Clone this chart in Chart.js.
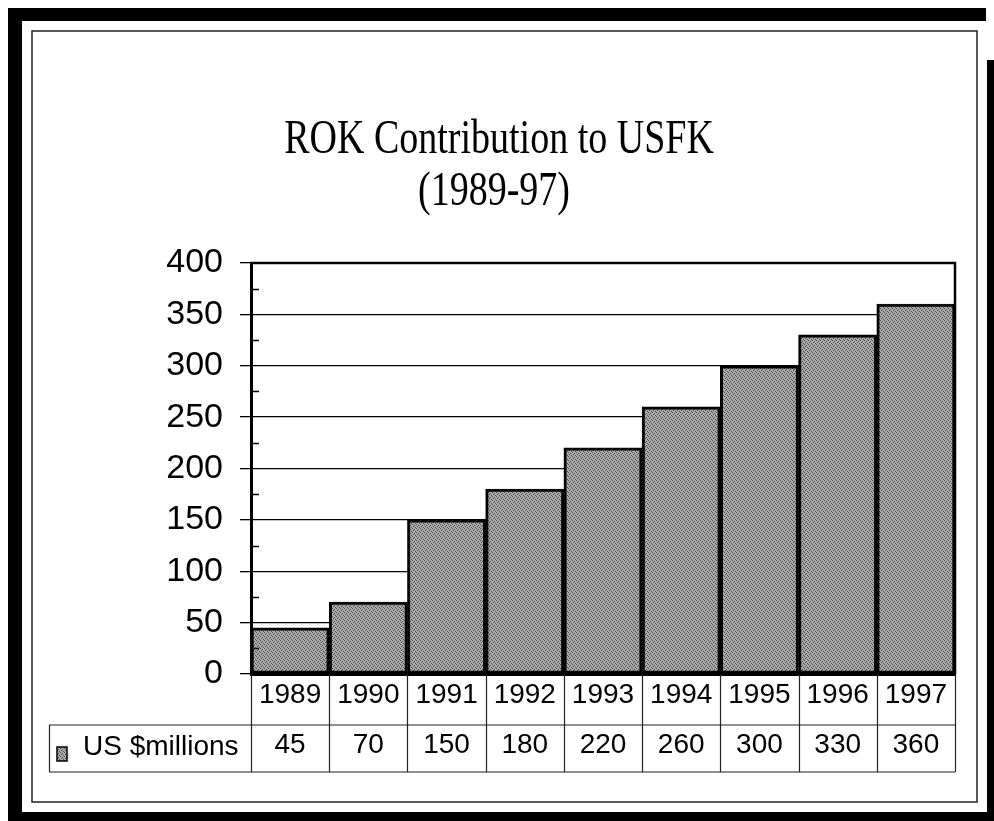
<!DOCTYPE html>
<html>
<head>
<meta charset="utf-8">
<script src="https://cdn.jsdelivr.net/npm/chart.js@4"></script>
<style>
  html, body { margin: 0; padding: 0; background: #fff; }
  #wrap { width: 994px; height: 821px; position: relative; }
</style>
</head>
<body>
<div id="wrap"><canvas id="c" width="994" height="821"></canvas></div>
<script>
const TITLE_LINES = ['ROK Contribution to USFK', '(1989-97)'];
const CATEGORIES = ['1989', '1990', '1991', '1992', '1993', '1994', '1995', '1996', '1997'];
const SERIES_NAME = 'US $millions';
const VALUES = [45, 70, 150, 180, 220, 260, 300, 330, 360];
const Y_MIN = 0, Y_MAX = 400, Y_STEP = 50;

// stipple fill pattern
function makePattern() {
  const p = document.createElement('canvas');
  p.width = 4; p.height = 4;
  const g = p.getContext('2d');
  g.fillStyle = '#aaaaaa';
  g.fillRect(0, 0, 4, 4);
  g.fillStyle = '#4c4c4c';
  [[0,0],[2,1],[1,2],[3,3]].forEach(([x,y]) => g.fillRect(x, y, 1, 1));
  return g.createPattern(p, 'repeat');
}
const ctx0 = document.getElementById('c').getContext('2d');
const PATTERN = makePattern();

const framePlugin = {
  id: 'frame',
  beforeDraw(chart) {
    const c = chart.ctx;
    c.save();
    c.fillStyle = '#fff';
    c.fillRect(0, 0, chart.width, chart.height);
    c.fillStyle = '#000';
    c.fillRect(10, 8, 976, 13);   // top
    c.fillRect(8, 8, 14, 813);    // left
    c.fillRect(8, 812, 986, 9);   // bottom
    c.fillRect(987, 60, 7, 761);  // right
    c.strokeStyle = '#222';
    c.lineWidth = 1.5;
    c.strokeRect(32, 31, 945, 771);
    // title (stretched serif)
    c.fillStyle = '#000';
    c.font = "38px 'Liberation Serif', 'Times New Roman', serif";
    c.textAlign = 'center';
    c.textBaseline = 'alphabetic';
    const sy = 1.25;
    c.scale(1, sy);
    c.fillText(TITLE_LINES[0], 499, 153 / sy);
    c.fillText(TITLE_LINES[1], 494, 205 / sy);
    c.restore();
  },
  afterDatasetsDraw(chart) {
    const c = chart.ctx;
    const a = chart.chartArea;
    const ys = chart.scales.y;
    c.save();
    c.strokeStyle = '#000';
    c.lineWidth = 2.5;
    c.beginPath();
    c.moveTo(a.left, a.top); c.lineTo(a.right, a.top); c.lineTo(a.right, a.bottom);
    c.stroke();
    c.lineWidth = 1.5;
    for (let v = Y_MIN + Y_STEP / 2; v < Y_MAX; v += Y_STEP) {
      const y = Math.round(ys.getPixelForValue(v)) + 0.5;
      c.beginPath(); c.moveTo(a.left, y); c.lineTo(a.left + 8, y); c.stroke();
    }
    c.restore();
  },
  afterDraw(chart) {
    const c = chart.ctx;
    const a = chart.chartArea;
    const xs = chart.scales.x;
    const n = CATEGORIES.length;
    const w = (a.right - a.left) / n;
    const rowTop = 725, rowBot = 772;
    c.save();
    c.strokeStyle = '#222';
    c.lineWidth = 1.2;
    for (let i = 0; i <= n; i++) {
      const x = Math.round(a.left + i * w) + 0.5;
      c.beginPath(); c.moveTo(x, a.bottom); c.lineTo(x, rowBot); c.stroke();
    }
    c.beginPath();
    c.moveTo(49, rowTop); c.lineTo(a.right, rowTop);
    c.moveTo(49, rowBot); c.lineTo(a.right, rowBot);
    c.moveTo(49.5, rowTop); c.lineTo(49.5, rowBot);
    c.stroke();
    c.fillStyle = '#000';
    c.font = "28px 'Liberation Sans', Arial, sans-serif";
    c.textAlign = 'center';
    c.textBaseline = 'middle';
    VALUES.forEach((v, i) => {
      c.fillText(String(v), xs.getPixelForValue(i), 745);
    });
    c.fillStyle = PATTERN;
    c.fillRect(57, 747, 10, 14);
    c.strokeStyle = '#000';
    c.lineWidth = 1.5;
    c.strokeRect(57, 747, 10, 14);
    c.fillStyle = '#000';
    c.font = "28px 'Liberation Sans', Arial, sans-serif";
    c.textAlign = 'left';
    c.fillText(SERIES_NAME, 83, 747);
    c.restore();
  }
};

new Chart(ctx0, {
  type: 'bar',
  data: {
    labels: CATEGORIES,
    datasets: [{
      label: SERIES_NAME,
      data: VALUES,
      backgroundColor: PATTERN,
      borderColor: '#000',
      borderWidth: 3,
      borderSkipped: false,
      categoryPercentage: 1.0,
      barPercentage: 1.0
    }]
  },
  options: {
    responsive: false,
    animation: false,
    devicePixelRatio: 1,
    layout: { padding: { left: 0, top: 263, right: 39, bottom: 0 } },
    plugins: { legend: { display: false }, title: { display: false }, tooltip: { enabled: false } },
    scales: {
      x: {
        grid: { display: false, drawTicks: false },
        border: { display: true, color: '#000', width: 3 },
        ticks: {
          color: '#000',
          padding: 4,
          font: { family: "'Liberation Sans', Arial, sans-serif", size: 28 },
          maxRotation: 0
        },
        afterFit(s) { s.height = 147; }
      },
      y: {
        min: Y_MIN, max: Y_MAX,
        grid: { color: '#000', lineWidth: 1.3, tickLength: 11, drawTicks: true },
        border: { display: true, color: '#000', width: 3 },
        ticks: {
          stepSize: Y_STEP,
          color: '#000',
          padding: 17,
          font: { family: "'Liberation Sans', Arial, sans-serif", size: 34 }
        },
        afterFit(s) { s.width = 251; }
      }
    }
  },
  plugins: [framePlugin]
});
</script>
</body>
</html>
